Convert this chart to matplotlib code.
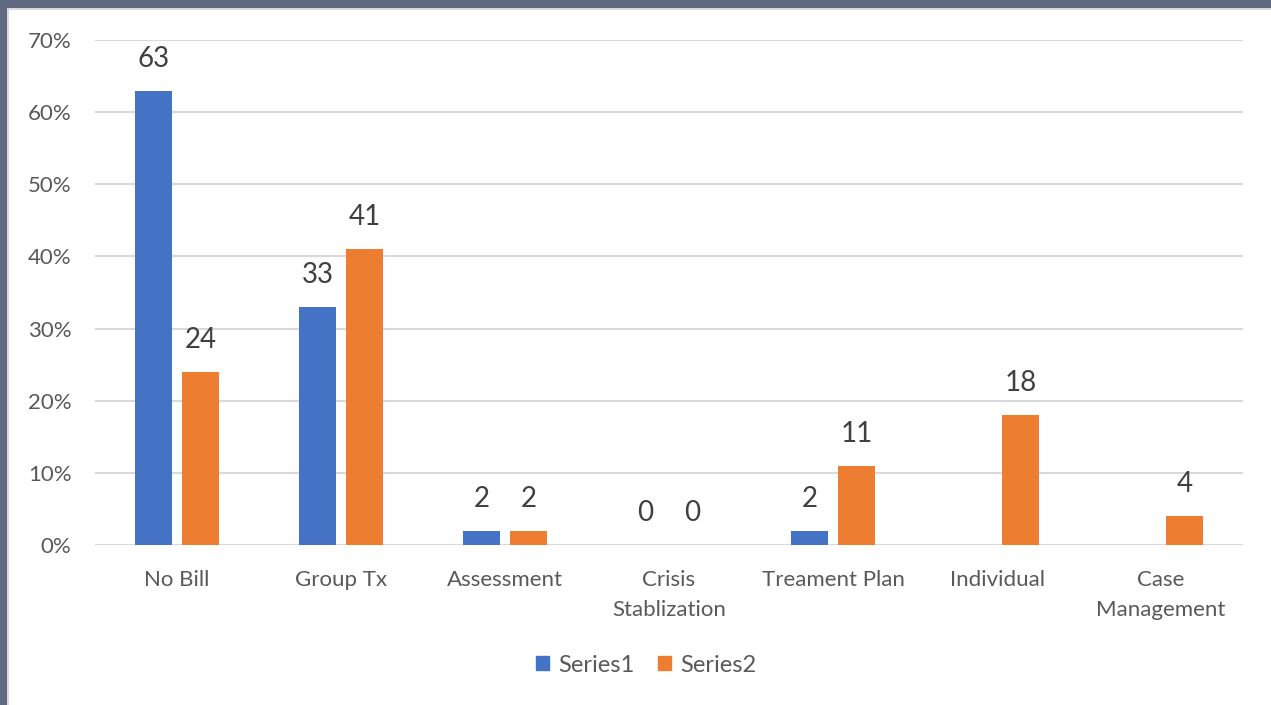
import matplotlib
matplotlib.use("Agg")
import matplotlib.pyplot as plt
import numpy as np
from matplotlib.patches import Rectangle
from matplotlib.ticker import FuncFormatter

categories = ["No Bill", "Group Tx", "Assessment", "Crisis\nStablization",
              "Treament Plan", "Individual", "Case\nManagement"]
series1 = [63, 33, 2, 0, 2, None, None]
series2 = [24, 41, 2, 0, 11, 18, 4]
series_names = ["Series1", "Series2"]
yticks = [0, 10, 20, 30, 40, 50, 60, 70]

plt.rcParams['font.family'] = ['Lato', 'DejaVu Sans']

W, H = 1271, 705
fig = plt.figure(figsize=(W / 100, H / 100), dpi=100)
fig.patch.set_facecolor("white")

# frame border
fig.patches.append(Rectangle((0, 1 - 8 / H), 1, 8 / H, transform=fig.transFigure,
                             facecolor="#5f6a80", edgecolor="none", zorder=0))
fig.patches.append(Rectangle((0, 0), 7 / W, 1, transform=fig.transFigure,
                             facecolor="#5f6a80", edgecolor="none", zorder=0))
fig.patches.append(Rectangle((7 / W, 0), 2 / W, 1 - 8 / H, transform=fig.transFigure,
                             facecolor="#d9d9d9", edgecolor="none", zorder=0))
fig.patches.append(Rectangle((7 / W, 1 - 10 / H), 1, 2 / H, transform=fig.transFigure,
                             facecolor="#d9d9d9", edgecolor="none", zorder=0))

ax = fig.add_axes([95 / W, 1 - 545 / H, (1243 - 95) / W, (545 - 40) / H])
ax.set_facecolor("white")

x = np.arange(len(categories))
bw = 0.226
off = 0.143
colors = ["#4472C4", "#ED7D31"]

for vals, sign, c in [(series1, -1, colors[0]), (series2, 1, colors[1])]:
    xs = [xi + sign * off for xi, v in zip(x, vals) if v is not None]
    vs = [v for v in vals if v is not None]
    ax.bar(xs, vs, width=bw, color=c, zorder=3)
    for xi, v in zip(xs, vs):
        ax.annotate(f"{v}", (xi, v), xytext=(0, 23), textcoords="offset points",
                    ha="center", va="center", fontsize=20, color="#404040")

ax.set_xlim(-0.5, len(categories) - 0.5)
ax.set_ylim(0, 70)
ax.set_yticks(yticks)
ax.yaxis.set_major_formatter(FuncFormatter(lambda v, p: f"{int(v)}%"))
ax.grid(axis="y", color="#d9d9d9", linewidth=1.5, zorder=0)
ax.set_axisbelow(True)
for s in ax.spines.values():
    s.set_visible(False)
ax.tick_params(axis="both", length=0, labelsize=16, colors="#595959")
ax.tick_params(axis="y", pad=17)
ax.tick_params(axis="x", pad=18)
ax.set_xticks(x)
ax.set_xticklabels(categories, linespacing=1.65)

handles = [Rectangle((0, 0), 1, 1, color=c) for c in colors]
fig.legend(handles, series_names, loc="center", bbox_to_anchor=(646 / W, 1 - 665 / H),
           ncol=2, frameon=False, fontsize=17, handlelength=0.55, handleheight=0.55,
           handletextpad=0.4, columnspacing=1.0, labelcolor="#595959")

fig.savefig("out.png", dpi=100, facecolor="white")
